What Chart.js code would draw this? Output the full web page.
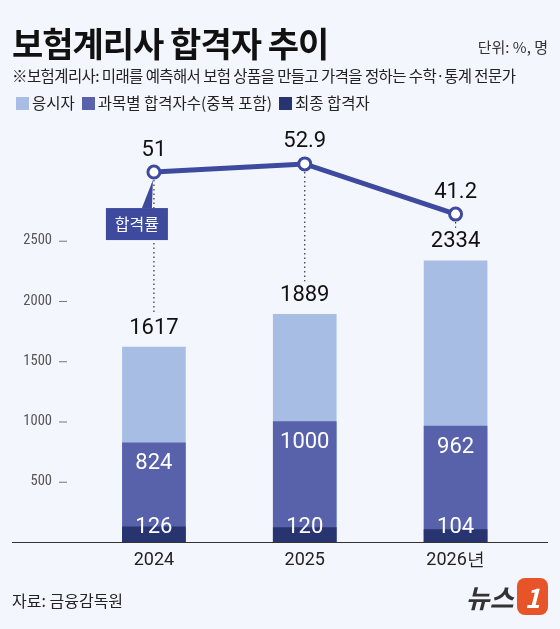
<!DOCTYPE html>
<html><head><meta charset="utf-8">
<script src="https://cdn.jsdelivr.net/npm/chart.js@4"></script>
<style>
body{margin:0;background:#f3f6fc;font-family:"Noto Sans CJK KR",sans-serif;}
#wrap{position:relative;width:560px;height:629px;overflow:hidden;}
canvas{position:absolute;left:0;top:0;}
.t{position:absolute;white-space:nowrap;color:#111;}
.lg span{display:inline-block;width:13px;height:13px;margin-right:3px;vertical-align:-1px;}
</style></head>
<body><div id="wrap">
<canvas id="c" width="560" height="629"></canvas>
<div class="t" style="left:12px;top:18px;font-size:34px;font-weight:bold;letter-spacing:-1px">보험계리사 합격자 추이</div>
<div class="t" style="right:12px;top:36px;font-size:15px;color:#333">단위: %, 명</div>
<div class="t" style="left:12px;top:64px;font-size:15.5px;color:#222;letter-spacing:-0.6px">※보험계리사: 미래를 예측해서 보험 상품을 만들고 가격을 정하는 수학·통계 전문가</div>
<div class="t lg" style="left:16px;top:91px;font-size:15.5px;color:#222"><span style="background:#a7bde4"></span>응시자&nbsp;&nbsp;<span style="background:#5862ab"></span>과목별 합격자수(중복 포함)&nbsp;&nbsp;<span style="background:#27346f"></span>최종 합격자</div>
<div class="t" style="left:12px;top:588px;font-size:16px;color:#222">자료: 금융감독원</div>
<div class="t" style="right:12px;top:578px;font-size:26px;font-weight:bold;color:#333;font-style:italic">뉴스<span style="background:#e8542a;color:#fff;border-radius:8px;padding:0 8px;margin-left:3px">1</span></div>
</div>
<script>
const years = ['2024', '2025', '2026년'];
const applicants = [1617, 1889, 2334];
const subjectPassers = [824, 1000, 962];
const finalPassers = [126, 120, 104];
const passRate = [51, 52.9, 41.2];
const yTicks = [500, 1000, 1500, 2000, 2500];

const lineColor = '#3e4a9e';

const overlay = {
  id: 'overlay',
  afterDatasetsDraw(chart) {
    const ctx = chart.ctx;
    const x = chart.scales.x, y = chart.scales.y, y2 = chart.scales.y2;
    ctx.save();
    // baseline
    ctx.strokeStyle = '#333'; ctx.lineWidth = 1;
    ctx.beginPath(); ctx.moveTo(12, y.getPixelForValue(0) + 0.5); ctx.lineTo(548, y.getPixelForValue(0) + 0.5); ctx.stroke();
    // y ticks
    ctx.font = '14.5px "Roboto Condensed", Roboto, sans-serif';
    ctx.fillStyle = '#555'; ctx.textAlign = 'right'; ctx.textBaseline = 'middle';
    yTicks.forEach(v => {
      const py = y.getPixelForValue(v);
      ctx.fillText(v, 52, py);
      ctx.strokeStyle = '#777';
      ctx.beginPath(); ctx.moveTo(59, py + 0.5); ctx.lineTo(67, py + 0.5); ctx.stroke();
    });
    ctx.textAlign = 'center';
    years.forEach((yr, i) => {
      const px = x.getPixelForValue(i);
      // x label
      ctx.fillStyle = '#222'; ctx.font = '18px Roboto, sans-serif';
      ctx.fillText(yr, px, 560);
      // top value
      const topY = y.getPixelForValue(applicants[i]);
      ctx.fillStyle = '#111'; ctx.font = '22px Roboto, sans-serif';
      ctx.fillText(applicants[i], px, topY - 19);
      // inner values
      ctx.fillStyle = '#fff';
      ctx.fillText(subjectPassers[i], px, y.getPixelForValue(subjectPassers[i]) + 21);
      ctx.fillText(finalPassers[i], px, y.getPixelForValue(0) - 15);
      // rate label and dotted line
      const ry = y2.getPixelForValue(passRate[i]);
      ctx.fillStyle = '#111';
      ctx.fillText(passRate[i], px, ry - 22);
      ctx.strokeStyle = '#333'; ctx.setLineDash([1.5, 3]); ctx.lineWidth = 1.2;
      ctx.beginPath(); ctx.moveTo(px, ry + 8); ctx.lineTo(px, topY - 33); ctx.stroke();
      ctx.setLineDash([]);
    });
    // pass-rate tag
    const p0x = x.getPixelForValue(0), p0y = y2.getPixelForValue(passRate[0]);
    ctx.fillStyle = lineColor;
    ctx.beginPath(); ctx.moveTo(p0x - 12, p0y + 36); ctx.lineTo(p0x - 1, p0y + 8); ctx.lineTo(p0x - 2, p0y + 36); ctx.fill();
    ctx.fillRect(p0x - 48, p0y + 36, 62, 32);
    ctx.fillStyle = '#fff'; ctx.font = '16px "Noto Sans CJK KR", sans-serif';
    ctx.fillText('합격률', p0x - 17, p0y + 52);
    ctx.restore();
  }
};

new Chart(document.getElementById('c'), {
  data: {
    labels: years,
    datasets: [
      { type: 'line', data: passRate, yAxisID: 'y2', borderColor: lineColor, borderWidth: 5,
        pointRadius: 6, pointBorderWidth: 3, pointBackgroundColor: '#fff', pointBorderColor: lineColor, order: 0 },
      { type: 'bar', data: finalPassers, backgroundColor: '#27346f', grouped: false, barThickness: 63, order: 1 },
      { type: 'bar', data: subjectPassers, backgroundColor: '#5862ab', grouped: false, barThickness: 63, order: 2 },
      { type: 'bar', data: applicants, backgroundColor: '#a7bde4', grouped: false, barThickness: 63, order: 3 }
    ]
  },
  options: {
    responsive: false,
    animation: false,
    layout: { padding: { left: 78.5, right: 29, top: 130, bottom: 87 } },
    plugins: { legend: { display: false }, tooltip: { enabled: false } },
    scales: {
      x: { display: false },
      y: { display: false, min: 0, max: 3419 },
      y2: { display: false, min: -35.2, max: 60.8 }
    }
  },
  plugins: [overlay]
});
</script>
</body></html>
